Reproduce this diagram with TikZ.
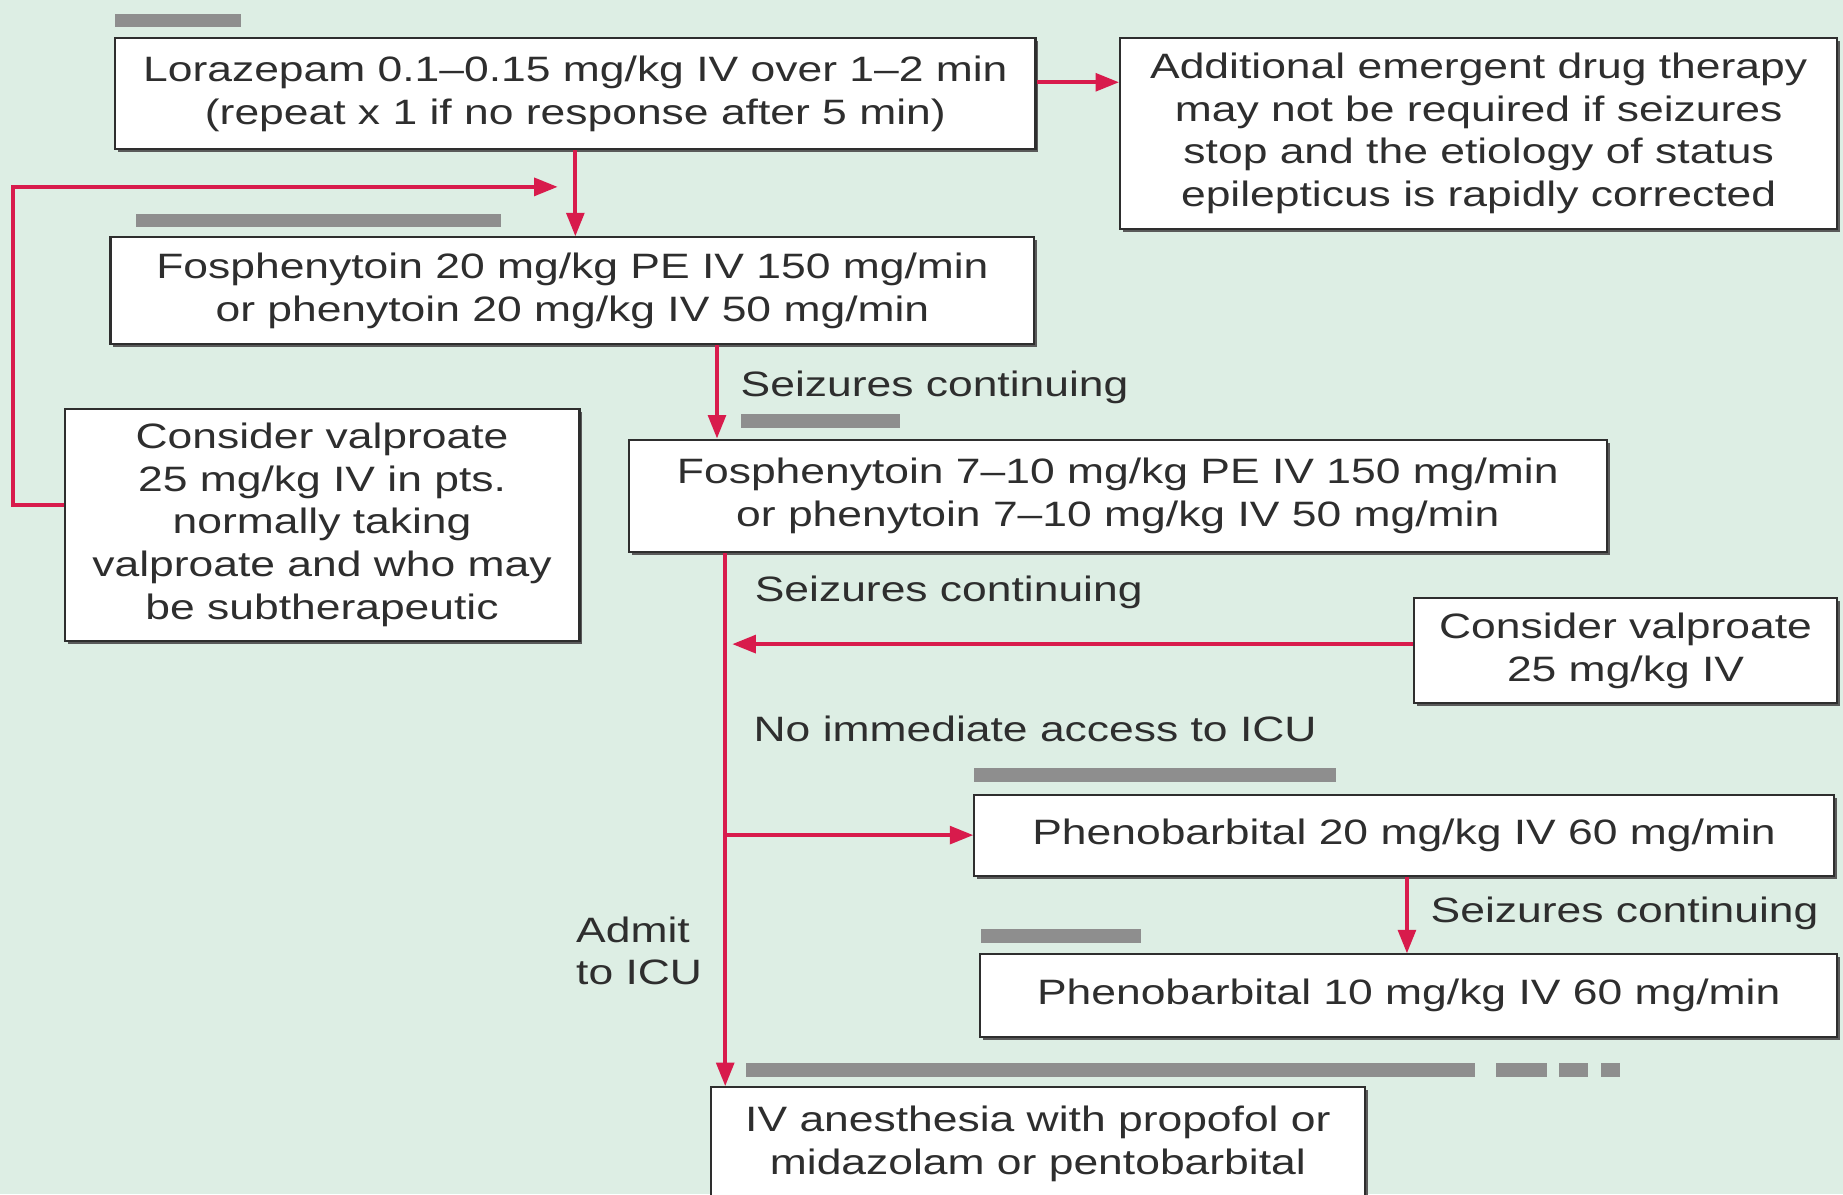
\documentclass[tikz,border=0pt]{standalone}
\usepackage{fontspec}
\setmainfont{Liberation Sans}[FakeStretch=1.26]
\usepackage{tikz}
\usetikzlibrary{arrows.meta,calc,shadows}
\definecolor{seink}  {HTML}{2E2E2E}
\definecolor{sered}  {HTML}{D81B4C}
\definecolor{semint} {HTML}{DDEEE4}
\definecolor{segrey} {HTML}{8E8E8E}
\definecolor{seshade}{HTML}{5A5A5A}
\tikzset{
  sebox/.style={draw=seink, line width=1.8pt, fill=white, inner sep=0pt, align=center,
                font=\fontsize{30}{36.5}\selectfont, text=seink,
                drop shadow={shadow xshift=2.5pt, shadow yshift=-2.5pt, fill=seshade, opacity=1}},
  seflow/.style={draw=sered, line width=3.3pt, -{Triangle[length=20pt,width=15pt]}},
  selabel/.style={font=\fontsize{30}{36.5}\selectfont, text=seink, inner sep=0pt, anchor=west},
  sebar/.style={fill=segrey},
}

\begin{document}
\begin{tikzpicture}[x=1pt,y=-1pt]
  \fill[semint] (0,0) rectangle (1568,1016);
  \useasboundingbox (0,0) rectangle (1568,1016);

  % boxes
  \node[sebox, minimum width=783pt, minimum height=95pt] (lzp) at (489.5,79.5)
    {Lorazepam 0.1--0.15 mg/kg IV over 1--2 min\\(repeat x 1 if no response after 5 min)};
  \node[sebox, minimum width=610pt, minimum height=163pt] (addl) at (1258,113.5)
    {Additional emergent drug therapy\\may not be required if seizures\\stop and the etiology of status\\epilepticus is rapidly corrected};
  \node[sebox, minimum width=786pt, minimum height=91pt] (fos1) at (487,247.5)
    {Fosphenytoin 20 mg/kg PE IV 150 mg/min\\or phenytoin 20 mg/kg IV 50 mg/min};
  \node[sebox, minimum width=438pt, minimum height=197pt] (vpa) at (274,446.5)
    {Consider valproate\\25 mg/kg IV in pts.\\normally taking\\valproate and who may\\be subtherapeutic};
  \node[sebox, minimum width=832pt, minimum height=96pt] (fos2) at (951,422)
    {Fosphenytoin 7--10 mg/kg PE IV 150 mg/min\\or phenytoin 7--10 mg/kg IV 50 mg/min};
  \node[sebox, minimum width=360pt, minimum height=89pt] (vpa2) at (1383,553.5)
    {Consider valproate\\25 mg/kg IV};
  \node[sebox, minimum width=731pt, minimum height=69pt] (pb1) at (1194.5,710.5)
    {Phenobarbital 20 mg/kg IV 60 mg/min};
  \node[sebox, minimum width=729pt, minimum height=70pt] (pb2) at (1198.5,847)
    {Phenobarbital 10 mg/kg IV 60 mg/min};
  \node[sebox, minimum width=556pt, minimum height=97pt] (anes) at (883,973.5)
    {IV anesthesia with propofol or\\midazolam or pentobarbital};

  % grey rules over the boxes
  \fill[sebar] (98,12) rectangle (205,23);
  \fill[sebar] (116,182) rectangle (426,193);
  \fill[sebar] (630,352) rectangle (766,364);
  \fill[sebar] (829,653) rectangle (1137,665);
  \fill[sebar] (835,790) rectangle (971,802);
  \fill[sebar] (635,904) rectangle (1255,916);
  \fill[sebar] (1273,904) rectangle (1316,916);
  \fill[sebar] (1326,904) rectangle (1351,916);
  \fill[sebar] (1362,904) rectangle (1378,916);

  % guide coordinates
  \coordinate (toprow) at (0,70);
  \coordinate (loopx)  at (11,0);
  \coordinate (loopy)  at (0,159);
  \coordinate (vparow) at (0,430);
  \coordinate (stepx)  at (610,0);
  \coordinate (spine)  at (617,0);
  \coordinate (vpa2row) at (0,548);
  \coordinate (pbx)    at (1197,0);

  % connectors
  \draw[seflow] (lzp.east |- toprow) -- (addl.west |- toprow);
  \draw[seflow] (lzp.south) -- (lzp.south |- fos1.north);
  \draw[seflow] (vpa.west |- vparow) -| (loopx |- loopy) -- ($(lzp.south |- loopy)+(-15,0)$);
  \draw[seflow] (fos1.south -| stepx) -- (fos2.north -| stepx);
  \draw[seflow] (fos2.south -| spine) -- (anes.north -| spine);
  \draw[seflow] (vpa2.west |- vpa2row) -- ($(spine |- vpa2row)+(6,0)$);
  \draw[seflow] (spine |- pb1.west) -- (pb1.west);
  \draw[seflow] (pb1.south -| pbx) -- (pb2.north -| pbx);

  % labels
  \node[selabel] (sc1) at (630,330) {Seizures continuing};
  \node[selabel] (sc2) at (642,504) {Seizures continuing};
  \node[selabel] (noicu) at (641,620) {No immediate access to ICU};
  \node[selabel] (sc3) at (1217,777) {Seizures continuing};
  \node[selabel, align=left] (icu) at (490,809) {Admit\\to ICU};
\end{tikzpicture}
\end{document}
